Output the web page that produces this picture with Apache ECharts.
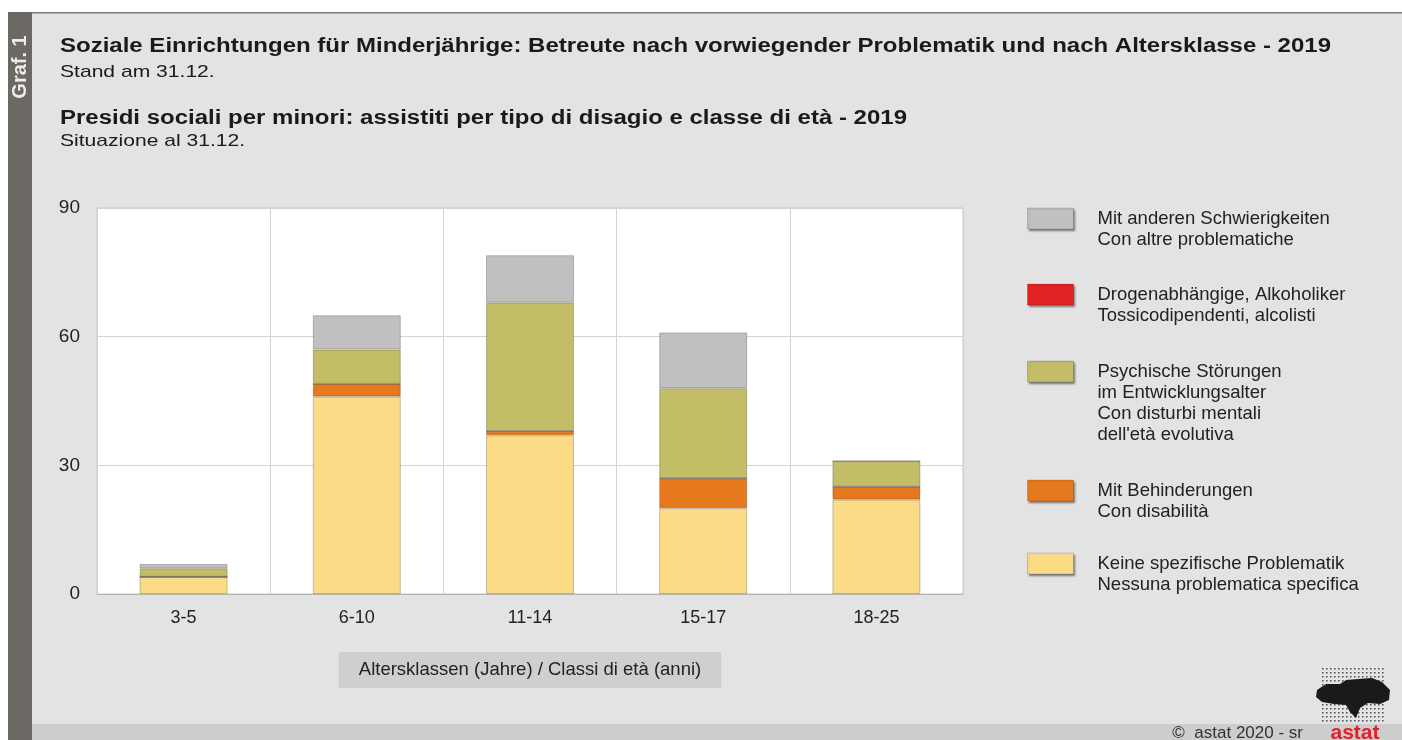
<!DOCTYPE html>
<html>
<head>
<meta charset="utf-8">
<script src="https://cdn.jsdelivr.net/npm/echarts@6/dist/echarts.min.js"></script>
<style>
html,body{margin:0;padding:0;background:#fff;}
#chart{width:1402px;height:740px;}
</style>
</head>
<body>
<div id="chart"></div>
<script>
// ---- data ----
const categories = ['3-5', '6-10', '11-14', '15-17', '18-25'];
const keineProblematik = [4, 46, 37, 20, 22];
const behinderungen = [0, 3, 1, 7, 3];
const drogen = [0, 0, 0, 0, 0];
const psychisch = [2, 8, 30, 21, 6];
const andere = [1, 8, 11, 13, 0];
const yTicks = [0, 30, 60, 90];

const seriesNames = {
  andere: 'Mit anderen Schwierigkeiten\nCon altre problematiche',
  drogen: 'Drogenabhängige, Alkoholiker\nTossicodipendenti, alcolisti',
  psychisch: 'Psychische Störungen\nim Entwicklungsalter\nCon disturbi mentali\ndell\'età evolutiva',
  behinderungen: 'Mit Behinderungen\nCon disabilità',
  keine: 'Keine spezifische Problematik\nNessuna problematica specifica'
};
const colors = {
  andere: '#c0c0c0',
  drogen: '#e02222',
  psychisch: '#c2bd66',
  behinderungen: '#e6791e',
  keine: '#fcdb86'
};

const FONT = "'Liberation Sans', Arial, sans-serif";
const chart = echarts.init(document.getElementById('chart'), null, {renderer: 'canvas'});

function barSeries(key, data) {
  return {
    name: seriesNames[key],
    type: 'bar',
    stack: 'total',
    barWidth: 88,
    data: data,
    itemStyle: { color: colors[key], borderColor: 'rgba(0,0,0,0.22)', borderWidth: 1 },
    emphasis: { disabled: true }
  };
}

const LH = 21;
// iconTop: wanted top of the colour swatch; text lines start level with the swatch
function legendFor(key, iconTop) {
  const nLines = seriesNames[key].split('\n').length;
  const lead = nLines - 1;               // leading blank lines to align first line with swatch
  const total = nLines + lead;
  const top = iconTop + 10.5 - total * LH / 2;
  return {
    data: [seriesNames[key]],
    left: 1027,
    top: top,
    padding: 0,
    icon: 'rect',
    itemWidth: 46,
    itemHeight: 21,
    selectedMode: false,
    formatter: function (name) { return '\n'.repeat(lead) + name; },
    itemStyle: { borderColor: 'rgba(0,0,0,0.15)', borderWidth: 1, shadowColor: 'rgba(0,0,0,0.45)', shadowBlur: 2, shadowOffsetX: 1.5, shadowOffsetY: 1.5 },
    textStyle: { fontFamily: FONT, fontSize: 18.5, lineHeight: LH, color: '#222', padding: [0, 0, 0, 19] }
  };
}

function headText(txt, y, size, bold, sx) {
  return { type: 'text', x: 60, y: y, scaleX: sx, silent: true, z: 5,
    style: { text: txt, fill: '#1a1a1a', font: (bold ? 'bold ' : '') + size + 'px ' + FONT, align: 'left', verticalAlign: 'middle' } };
}

// decorative dotted logo
const logo = [];
for (let gx = 0; gx < 16; gx++) {
  for (let gy = 0; gy < 14; gy++) {
    logo.push({ type: 'rect', silent: true, z: 5,
      shape: { x: 1322 + gx * 4, y: 668 + gy * 4, width: 1.6, height: 1.6 },
      style: { fill: '#555' } });
  }
}

const option = {
  backgroundColor: '#e3e3e3',
  animation: false,
  legend: [
    legendFor('andere', 208),
    legendFor('drogen', 284),
    legendFor('psychisch', 361),
    legendFor('behinderungen', 480),
    legendFor('keine', 553)
  ],
  grid: {
    left: 97, right: 439, top: 208, bottom: 146,
    show: true, backgroundColor: '#ffffff', borderColor: '#c4c4c4', borderWidth: 1
  },
  xAxis: {
    type: 'category',
    data: categories,
    axisLine: { show: true, lineStyle: { color: '#b4b4b4' } },
    axisTick: { show: false },
    splitLine: { show: true, interval: 0, lineStyle: { color: '#d4d4d4' } },
    axisLabel: { fontFamily: FONT, fontSize: 18, color: '#222', margin: 15 },
    name: 'Altersklassen (Jahre) / Classi di età (anni)',
    nameLocation: 'middle',
    nameGap: 58,
    nameTextStyle: { fontFamily: FONT, fontSize: 18.5, color: '#222', backgroundColor: '#cfcfcf', padding: [8, 20, 8, 20], lineHeight: 20 }
  },
  yAxis: {
    type: 'value',
    min: yTicks[0], max: yTicks[yTicks.length - 1], interval: 30,
    axisLine: { show: false },
    axisTick: { show: false },
    splitLine: { show: true, lineStyle: { color: '#d4d4d4' } },
    axisLabel: { fontFamily: FONT, fontSize: 19, color: '#222', margin: 17 }
  },
  series: [
    barSeries('keine', keineProblematik),
    barSeries('behinderungen', behinderungen),
    barSeries('drogen', drogen),
    barSeries('psychisch', psychisch),
    barSeries('andere', andere)
  ],
  graphic: [
    { type: 'rect', z: -10, shape: { x: 0, y: 0, width: 1402, height: 12 }, style: { fill: '#ffffff' }, silent: true },
    { type: 'rect', z: -10, shape: { x: 0, y: 0, width: 8, height: 740 }, style: { fill: '#ffffff' }, silent: true },
    { type: 'rect', z: -9, shape: { x: 8, y: 12, width: 1394, height: 1.5 }, style: { fill: '#7a7a7a' }, silent: true },
    { type: 'rect', z: -9, shape: { x: 8, y: 12, width: 24, height: 728 }, style: { fill: '#6c6964' }, silent: true },
    { type: 'rect', z: -9, shape: { x: 32, y: 724, width: 1370, height: 16 }, style: { fill: '#cdcdcd' }, silent: true },
    headText('Soziale Einrichtungen für Minderjährige: Betreute nach vorwiegender Problematik und nach Altersklasse - 2019', 46, 20, true, 1.2),
    headText('Stand am 31.12.', 72, 17, false, 1.24),
    headText('Presidi sociali per minori: assistiti per tipo di disagio e classe di età - 2019', 118, 20, true, 1.2),
    headText('Situazione al 31.12.', 141, 17, false, 1.24),
    { type: 'text', z: 5, x: 20, y: 67, rotation: Math.PI / 2, silent: true,
      style: { text: 'Graf. 1', fill: '#ececec', font: "bold 20px 'Liberation Sans', Arial, sans-serif", align: 'center', verticalAlign: 'middle' } },
    { type: 'text', z: 5, x: 1303, y: 733, silent: true,
      style: { text: '©  astat 2020 - sr', fill: '#333', font: "17px 'Liberation Sans', Arial, sans-serif", align: 'right', verticalAlign: 'middle' } },
    { type: 'text', z: 5, x: 1355, y: 733, silent: true,
      style: { text: 'astat', fill: '#e3202a', font: "bold 21px 'Liberation Sans', Arial, sans-serif", align: 'center', verticalAlign: 'middle' } }
  ].concat(logo).concat([
    { type: 'polygon', z: 6, silent: true,
      shape: { points: [[1317,690],[1326,684],[1340,684],[1346,680],[1358,679],[1372,678],[1382,682],[1390,690],[1389,700],[1380,704],[1368,703],[1360,708],[1356,718],[1350,712],[1346,705],[1334,704],[1322,702],[1316,697]] },
      style: { fill: '#1a1a1a' } }
  ])
};
chart.setOption(option);
</script>
</body>
</html>
